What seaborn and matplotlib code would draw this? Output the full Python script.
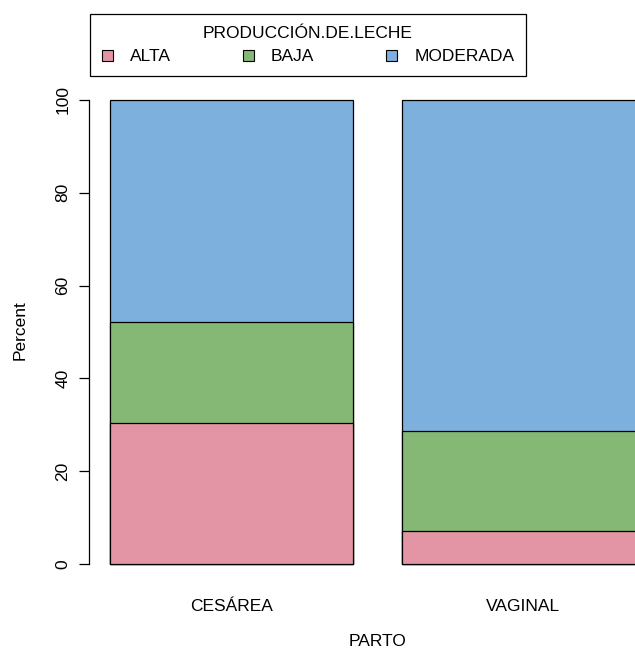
import matplotlib
matplotlib.use("Agg")
import matplotlib.pyplot as plt
import seaborn as sns
import pandas as pd
from matplotlib.patches import Patch

# Data (percent within each PARTO group)
partos = ["CESÁREA", "VAGINAL"]
niveles = ["ALTA", "BAJA", "MODERADA"]
alta = [30.43, 7.14]
baja = [21.74, 21.43]
moderada = [47.83, 71.43]
colores = ["#E495A5", "#86B875", "#7DB0DD"]
yticks = [0, 20, 40, 60, 80, 100]

sns.set_style("white")
plt.rcParams['font.family'] = ['Liberation Sans', 'DejaVu Sans']
plt.rcParams['text.color'] = 'black'
plt.rcParams['xtick.color'] = 'black'
plt.rcParams['ytick.color'] = 'black'
FS = 12.5

df = pd.DataFrame({"PARTO": partos, "ALTA": alta, "BAJA": baja, "MODERADA": moderada})
df["c_ALTA"] = df["ALTA"]
df["c_BAJA"] = df["ALTA"] + df["BAJA"]
df["c_MODERADA"] = df["ALTA"] + df["BAJA"] + df["MODERADA"]

W, H = 635, 648
fig = plt.figure(figsize=(W / 100, H / 100), dpi=100)
left, right, top, bottom = 88.6, 666.0, 81.4, 582.6
ax = fig.add_axes([left / W, 1 - bottom / H, (right - left) / W, (bottom - top) / H])

for nivel, col in zip(reversed(niveles), reversed(colores)):
    sns.barplot(data=df, x="PARTO", y="c_" + nivel, order=partos, color=col,
                saturation=1, width=1 / 1.2, edgecolor="black", linewidth=0.9,
                errorbar=None, ax=ax)

ax.set_xlim(-0.49, 1.49)
ax.set_ylim(-4, 104)
for s in ["top", "right", "bottom"]:
    ax.spines[s].set_visible(False)
ax.spines["left"].set_bounds(0, 100)
ax.spines["left"].set_linewidth(0.9)
ax.spines["left"].set_color("black")
ax.set_yticks(yticks)
ax.set_yticklabels([str(t) for t in yticks], rotation=90, va="center", fontsize=FS)
ax.tick_params(axis="y", direction="out", length=7, width=0.9, color="black", pad=6, left=True)
ax.tick_params(axis="x", length=0, pad=12, labelsize=FS)
ax.set_xlabel("")
ax.set_ylabel("")
ax.grid(False)

fig.text(378 / W, 1 - 642 / H, "PARTO", ha="center", va="center", fontsize=FS)
fig.text(20 / W, 1 - 330 / H, "Percent", ha="center", va="center", rotation=90, fontsize=FS)

handles = [Patch(facecolor=c, edgecolor="black", linewidth=0.8) for c in colores]
leg = fig.legend(handles, niveles, ncol=3, title="PRODUCCIÓN.DE.LECHE",
                 loc="upper left", bbox_to_anchor=(90 / W, 1 - 14 / H),
                 frameon=True, fancybox=False, edgecolor="black", framealpha=1,
                 fontsize=FS, title_fontsize=FS, handlelength=0.63, handleheight=0.6,
                 handletextpad=0.98, columnspacing=4.15, borderpad=0.68, borderaxespad=0)
leg.get_frame().set_linewidth(0.9)
leg._legend_box.sep = 6

fig.savefig("out.png", dpi=100)
